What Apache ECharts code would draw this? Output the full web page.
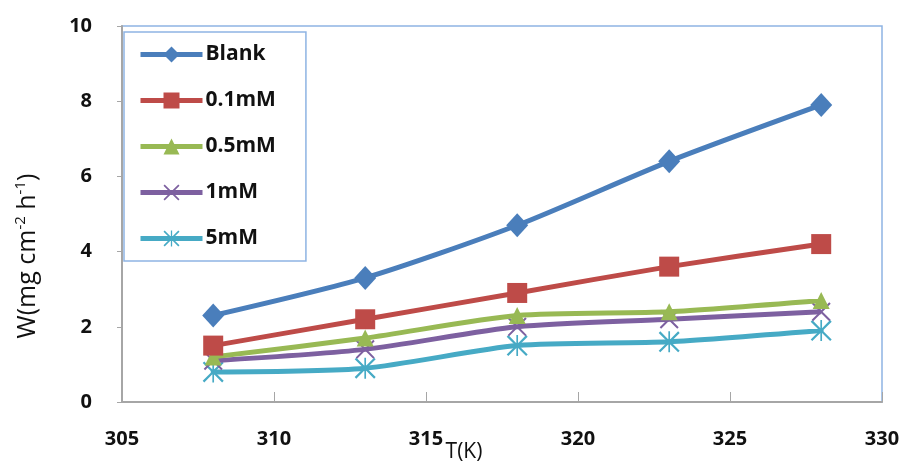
<!DOCTYPE html>
<html>
<head>
<meta charset="utf-8">
<script src="https://cdn.jsdelivr.net/npm/echarts@6/dist/echarts.min.js"></script>
<style>html,body{margin:0;padding:0;background:#fff}#c{width:908px;height:468px}</style>
</head>
<body>
<div id="c"></div>
<script>
const temps = [308, 313, 318, 323, 328];
const blank = [2.3, 3.3, 4.7, 6.4, 7.9];
const mM01 = [1.5, 2.2, 2.9, 3.6, 4.2];
const mM05 = [1.2, 1.7, 2.3, 2.4, 2.7];
const mM1 = [1.1, 1.4, 2.0, 2.2, 2.4];
const mM5 = [0.8, 0.9, 1.5, 1.6, 1.9];
const seriesNames = ['Blank', '0.1mM', '0.5mM', '1mM', '5mM'];
const xTicks = [305, 310, 315, 320, 325, 330];
const yTicks = [0, 2, 4, 6, 8, 10];
const yTitle = 'W(mg cm{sup|-2} h{sup|-1})';
const xTitle = 'T(K)';

const colors = ['#4A7EBB', '#BE4B48', '#98B954', '#7D60A0', '#46AAC5'];
const xPath = 'path://M0,1.5L1.5,0L10,8.5L18.5,0L20,1.5L11.5,10L20,18.5L18.5,20L10,11.5L1.5,20L0,18.5L8.5,10Z';
const starPath = 'path://M0,1.5L1.5,0L9.2,7.7L9.2,0L10.8,0L10.8,7.7L18.5,0L20,1.5L12.3,9.2L12.3,10.8L20,18.5L18.5,20L10.8,12.3L10.8,20L9.2,20L9.2,12.3L1.5,20L0,18.5L7.7,10.8L7.7,9.2Z';
const symbols = ['diamond', 'rect', 'triangle', xPath, starPath];
const sizes = [[22, 24], 20, 17, 19, 21];
const dataSets = [blank, mM01, mM05, mM1, mM5];

const chart = echarts.init(document.getElementById('c'), null, {renderer: 'canvas'});
const font = 'Open Sans';
chart.setOption({
  animation: false,
  backgroundColor: '#fff',
  grid: {left: 122, right: 26, top: 26, bottom: 66, show: true, borderColor: '#8EB4E3', borderWidth: 1.5,
         containLabel: false, outerBoundsMode: 'none'},
  graphic: [{
    type: 'text',
    x: 28, y: 256,
    rotation: Math.PI / 2,
    style: {
      text: yTitle,
      fontFamily: font, fontSize: 25, fontWeight: 500, fill: '#111',
      align: 'center', verticalAlign: 'middle',
      rich: {sup: {fontFamily: font, fontSize: 15, fill: '#111', padding: [0, 0, 14, 0]}}
    }
  }],
  legend: {
    orient: 'vertical', left: 124, top: 32,
    padding: [12, 30, 12, 14],
    itemGap: 25,
    itemWidth: 62, itemHeight: 20,
    borderColor: '#8EB4E3', borderWidth: 1.5,
    lineStyle: {width: 5},
    textStyle: {fontFamily: font, fontSize: 21, fontWeight: 'bold', color: '#111', padding: [0, 0, 0, -2]},
    data: seriesNames
  },
  xAxis: {
    type: 'value', min: 305, max: 330, interval: 5,
    name: xTitle, nameLocation: 'middle', nameGap: 40, nameMoveOverlap: false,
    nameTextStyle: {fontFamily: font, fontSize: 21, color: '#111', fontWeight: 500, padding: [0, 76, 0, 0]},
    axisLine: {show: true, lineStyle: {color: '#A6A6A6', width: 2}},
    axisTick: {show: true, inside: true, length: 10, lineStyle: {color: '#A6A6A6', width: 1}},
    axisLabel: {fontFamily: font, fontSize: 20, fontWeight: 'bold', color: '#111', margin: 27},
    splitLine: {show: false}
  },
  yAxis: {
    type: 'value', min: 0, max: 10, interval: 2,
    axisLine: {show: true, lineStyle: {color: '#A6A6A6', width: 2}},
    axisTick: {show: true, inside: false, length: 5, lineStyle: {color: '#A6A6A6', width: 1}},
    axisLabel: {fontFamily: font, fontSize: 20, fontWeight: 'bold', color: '#111', margin: 30},
    splitLine: {show: false}
  },
  series: seriesNames.map((n, i) => ({
    name: n,
    type: 'line',
    smooth: 0.25,
    data: temps.map((t, j) => [t, dataSets[i][j]]),
    symbol: symbols[i],
    symbolSize: sizes[i],
    lineStyle: {color: colors[i], width: 5},
    itemStyle: {color: colors[i], opacity: 1},
    z: 10 - i
  }))
});
</script>
</body>
</html>
